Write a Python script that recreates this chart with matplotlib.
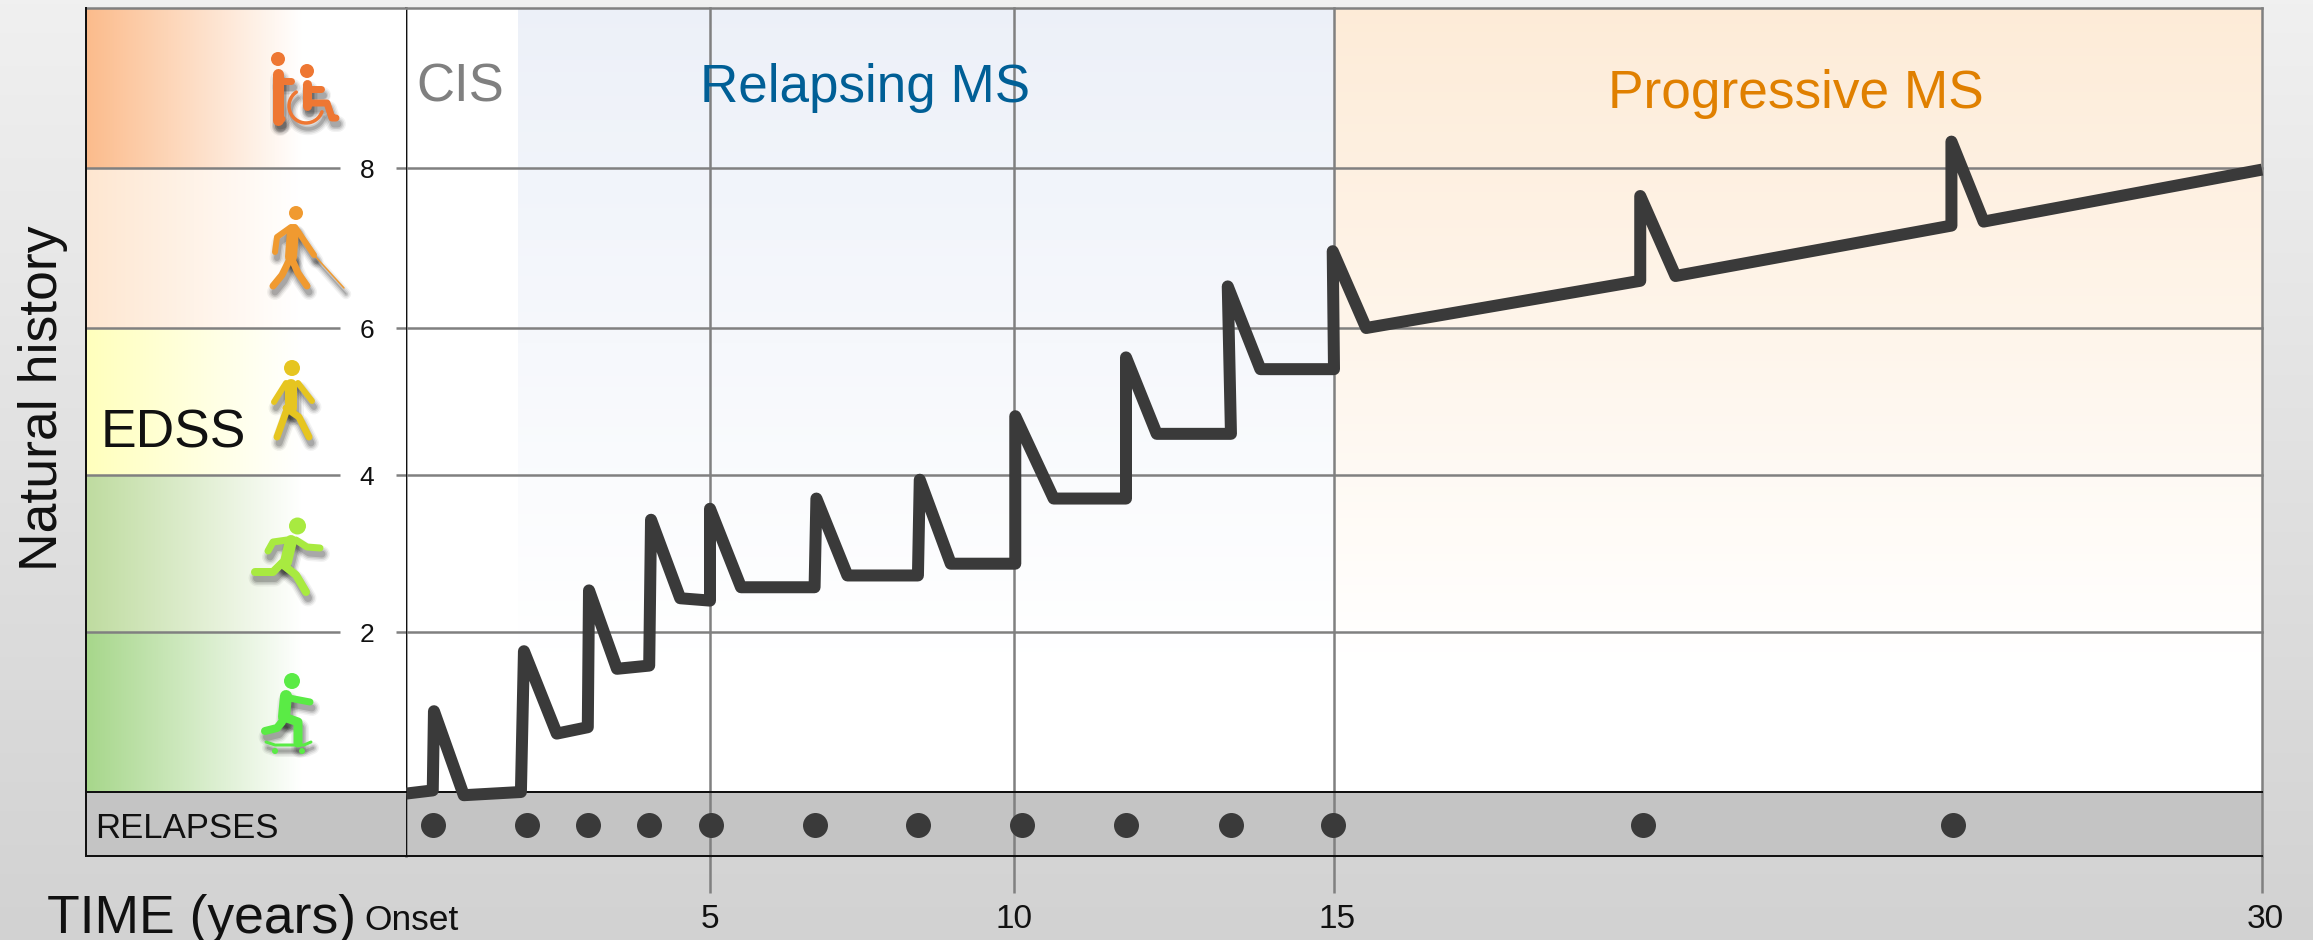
import numpy as np
import matplotlib
matplotlib.use("Agg")
import matplotlib.pyplot as plt
from matplotlib.colors import to_rgb
from matplotlib.transforms import ScaledTranslation
from matplotlib.patches import Circle

plt.rcParams['font.family'] = ['Liberation Sans', 'DejaVu Sans']

W, H = 2313, 940
DPI = 100

# ---- data ----
course_years = [0, 0.44, 0.46, 0.95, 1.89, 1.94, 2.48, 2.99, 3.01, 3.47, 4.0, 4.03, 4.51, 5.0, 5.0,
                5.51, 6.72, 6.75, 7.26, 8.42, 8.45, 8.96, 10.02, 10.02, 10.62, 11.75, 11.75, 12.23,
                13.39, 13.34, 13.85, 15.0, 14.98, 15.52, 19.95, 19.95, 20.52, 24.98, 24.98, 25.5, 30.0]
course_edss = [-0.02, 0.02, 1.01, -0.04, 0.0, 1.76, 0.73, 0.81, 2.53, 1.54, 1.58, 3.43, 2.43, 2.40, 3.57,
               2.57, 2.57, 3.70, 2.72, 2.72, 3.94, 2.87, 2.87, 4.80, 3.70, 3.70, 5.60, 4.56,
               4.56, 6.52, 5.44, 5.44, 6.96, 6.00, 6.59, 7.65, 6.65, 7.28, 8.33, 7.33, 7.98]
relapse_years = [0.44, 1.99, 2.99, 4.0, 5.02, 6.72, 8.42, 10.12, 11.75, 13.39, 14.98, 20.0, 25.0]
relapse_row = -0.41
time_ticks = [0, 5, 10, 15, 30]
time_labels = ['Onset', '5', '10', '15', '30']
edss_ticks = [2, 4, 6, 8]
edss_bands = [(0, 2), (2, 4), (4, 6), (6, 8), (8, 10)]
band_colors = ['#a6d68a', '#bedb9f', '#ffffbc', '#fee6d0', '#fbbb8b']
cis_end = 1.84
phase_end = 15

# scale knots: the printed axes are not evenly spaced
x_knots = [0, 5, 10, 15, 30]
x_knot_px = [406, 710, 1014, 1334, 2262]
y_knots = [-0.8, 0, 2, 4, 6, 8, 10]
y_knot_px = [-856, -792, -632, -475, -328, -168, -8]


def xf(v): return np.interp(v, x_knots, x_knot_px)
def xi(v): return np.interp(v, x_knot_px, x_knots)
def yf(v): return np.interp(v, y_knots, y_knot_px)
def yi(v): return np.interp(v, y_knot_px, y_knots)


def place(x0, y0, x1, y1, **kw):
    return fig.add_axes([x0 / W, 1 - y1 / H, (x1 - x0) / W, (y1 - y0) / H], **kw)


fig = plt.figure(figsize=(W / DPI, H / DPI), dpi=DPI)

# page background
bg = place(0, 0, W, H, zorder=0)
bg.axis('off')
grad = np.linspace(0, 1, 256)[:, None]
top, bot = np.array(to_rgb('#f0f0f0')), np.array(to_rgb('#d2d2d2'))
bg.imshow((top + (bot - top) * grad[..., None]).reshape(256, 1, 3), aspect='auto', extent=(0, 1, 0, 1))

GRID = '#808080'
GLW = 2.5 * 72 / DPI
BLK = '#111111'

# ---- main panel ----
ax = place(406, 8, 2262, 856, zorder=1)
ax.set_xscale('function', functions=(xf, xi))
ax.set_yscale('function', functions=(yf, yi))
ax.set_xlim(0, 30)
ax.set_ylim(-0.8, 10)
for s in ax.spines.values():
    s.set_visible(False)
ax.patch.set_facecolor('white')

ys = np.linspace(0, 10, 201)
t = np.clip((ys - 1.5) / 8.5, 0, 1)[:-1, None, None]
for (x0, x1, c) in [(cis_end, phase_end, '#ecf0f8'), (phase_end, 30, '#fdebd7')]:
    col = 1 + (np.array(to_rgb(c)) - 1) * t
    ax.pcolormesh([x0, x1], ys, col, shading='flat', antialiased=False, zorder=1)
ax.axhspan(-0.8, 0, color='#c4c4c4', lw=0, zorder=1)

ax.set_xticks(time_ticks, time_labels)
ax.set_yticks(edss_ticks, [])
ax.tick_params(axis='y', length=0)
ax.tick_params(axis='x', length=37 * 72 / DPI, width=GLW, color=GRID, pad=8, labelsize=24, labelcolor=BLK)
ax.grid(True, color=GRID, lw=GLW)
for g in ax.get_xgridlines() + ax.get_ygridlines():
    g.set_clip_on(False)
ticks = ax.xaxis.get_major_ticks()
ticks[0].tick1line.set_visible(False)
ticks[0].label1.set_fontsize(25.5)
for i, dx in [(0, 6), (3, 3), (4, 3)]:
    lab = ticks[i].label1
    lab.set_transform(lab.get_transform() + ScaledTranslation(dx / DPI, 0, fig.dpi_scale_trans))

ax.axvline(0, color=BLK, lw=2 * 72 / DPI, zorder=2, clip_on=False)
ax.axhline(0, color=BLK, lw=2 * 72 / DPI, zorder=2, clip_on=False)
ax.axhline(-0.8, color=BLK, lw=2 * 72 / DPI, zorder=2, clip_on=False)
ax.axhline(10, color=GRID, lw=GLW, zorder=2, clip_on=False)

ax.plot(course_years, course_edss, color='#3a3a3a', lw=12 * 72 / DPI, solid_joinstyle='round',
        solid_capstyle='butt', zorder=4, clip_on=False)
ax.scatter(relapse_years, [relapse_row] * len(relapse_years), marker='o', s=(25 * 72 / DPI) ** 2,
           color='#3a3a3a', linewidths=0, zorder=4)

# ---- left EDSS gutter ----
gut = place(86, 8, 406, 856, zorder=1)
gut.set_yscale('function', functions=(yf, yi))
gut.set_xlim(86, 406)
gut.set_ylim(-0.8, 10)
gut.set_xticks([])
gut.set_yticks([])
for s in gut.spines.values():
    s.set_visible(False)
gut.patch.set_facecolor('white')
xs = np.linspace(86, 303, 218)
fade = np.linspace(0, 1, 217)[None, :, None]
for (b0, b1), c in zip(edss_bands, band_colors):
    col = np.array(to_rgb(c)) + (1 - np.array(to_rgb(c))) * fade
    gut.pcolormesh(xs, [b0, b1], col, shading='flat', antialiased=False, zorder=1)
gut.axhspan(-0.8, 0, color='#c4c4c4', lw=0, zorder=1)
gut.hlines(edss_ticks, 86, 340, color=GRID, lw=GLW, zorder=2)
gut.hlines(edss_ticks, 396, 406, color=GRID, lw=GLW, zorder=2)
for v in edss_ticks:
    gut.text(367, v, str(v), ha='center', va='center_baseline', fontsize=19, color=BLK, zorder=3)
gut.axvline(86, color=BLK, lw=2 * 72 / DPI, zorder=3, clip_on=False)
gut.axhline(0, color=BLK, lw=2 * 72 / DPI, zorder=2, clip_on=False)
gut.axhline(-0.8, color=BLK, lw=2 * 72 / DPI, zorder=2, clip_on=False)
gut.axhline(10, color=GRID, lw=GLW, zorder=2, clip_on=False)

# ---- overlay for text and pictograms (pixel space) ----
ov = place(0, 0, W, H, zorder=3)
ov.set_xlim(0, W)
ov.set_ylim(H, 0)
ov.axis('off')


def label(x, y, s, size, color=BLK, **kw):
    ov.text(x, y, s, fontsize=size, color=color, va='baseline', ha=kw.pop('ha', 'left'), **kw)


label(416, 102, 'CIS', 38, '#808080')
label(700, 102, 'Relapsing MS', 38.2, '#005f96')
label(1608, 108, 'Progressive MS', 38.3, '#e08000')
label(101, 448, 'EDSS', 38.5)
label(95, 838, 'RELAPSES', 25)
label(47, 933, 'TIME (years)', 38.5)
ov.text(57, 398, 'Natural history', fontsize=38.5, color=BLK, rotation=90,
        ha='center', va='baseline', rotation_mode='anchor')


def icon(color, strokes, dots):
    for k, a in [(9, .05), (6, .08), (3, .11), (0, .15)]:
        for pts, lw in strokes:
            p = np.array(pts, float)
            ov.plot(p[:, 0] + 2, p[:, 1] + 6, color='k', alpha=a, lw=(lw + k) * .72,
                    solid_capstyle='round', solid_joinstyle='round', zorder=2)
    for pts, lw in strokes:
        p = np.array(pts, float)
        ov.plot(p[:, 0], p[:, 1], color=color, lw=lw * .72, solid_capstyle='round',
                solid_joinstyle='round', zorder=3)
    for x, y, r in dots:
        ov.add_patch(Circle((x, y), r, color=color, lw=0, zorder=3))


ang = np.radians(np.linspace(235, 20, 30))
wheel = list(zip(306 + 17 * np.cos(ang), 106 + 17 * np.sin(ang)))
icon('#ee7733',
     [([(278, 74), (278, 120)], 11), ([(278, 81), (291, 81)], 7), ([(278, 120), (282, 119)], 7),
      ([(307, 84), (307, 106)], 9), ([(307, 89), (321, 89)], 7),
      ([(307, 103), (327, 103), (332, 118), (336, 118)], 7), (wheel, 3.5)],
     [(278, 59, 7), (307, 71, 7)])
icon('#f09a30',
     [([(293, 230), (291, 257)], 12), ([(291, 227), (277, 237), (275, 252)], 6),
      ([(295, 227), (314, 255)], 6), ([(291, 257), (282, 275), (273, 286)], 7),
      ([(291, 257), (298, 273), (307, 286)], 7), ([(314, 255), (344, 288)], 1.5)],
     [(296, 213, 7)])
icon('#e6c520',
     [([(291, 385), (291, 408)], 12), ([(286, 383), (274, 402)], 6), ([(298, 383), (312, 401)], 6),
      ([(286, 408), (299, 417), (309, 437)], 7), ([(286, 412), (277, 437)], 7)],
     [(292, 368, 8)])
icon('#a8ea40',
     [([(291, 541), (286, 562)], 12), ([(287, 540), (273, 542), (268, 551)], 7),
      ([(296, 540), (307, 547), (320, 548)], 7), ([(282, 563), (273, 572), (255, 572)], 8),
      ([(282, 564), (296, 575), (306, 592)], 8)],
     [(297.5, 526, 8.5)])
icon('#5aeb45',
     [([(286, 696), (284, 717)], 12), ([(289, 698), (310, 702)], 7),
      ([(284, 717), (298, 722), (298, 743)], 9), ([(282, 722), (277, 728), (265, 731)], 8),
      ([(266, 742), (275, 745), (304, 745), (311, 742)], 3)],
     [(292, 681, 8), (275, 751, 3), (302, 751, 3)])

fig.savefig('out.png', dpi=DPI)
